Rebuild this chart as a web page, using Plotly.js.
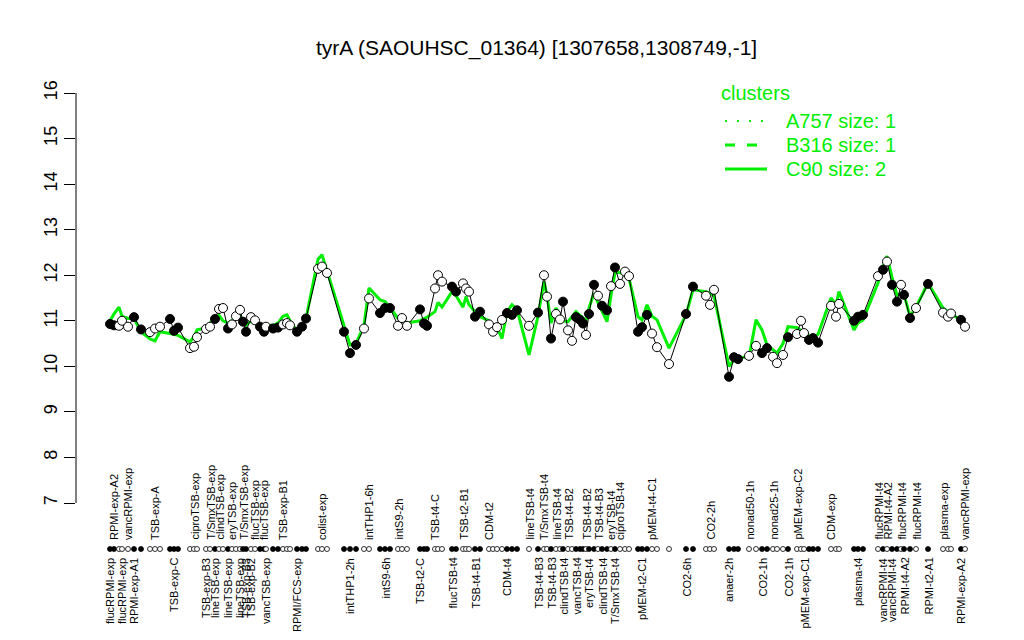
<!DOCTYPE html>
<html>
<head>
<meta charset="utf-8">
<script src="https://cdn.plot.ly/plotly-3.0.1.min.js"></script>
<style>html,body{margin:0;padding:0;background:#fff;}#chart{width:1024px;height:640px;}</style>
</head>
<body>
<div id="chart"></div>
<script>
// Condition positions along the x axis (condition slots, groups separated by gaps)
const positions = [
  1,5,10,13,19,25,32,41,46,51,
  61,65,69,81,85,88,97,101,106,110,
  114,119,123,127,131,134,137,142,146,151,
  155,157,164,169,174,178,181,188,193,197,
  209,213,218,235,241,247,255,260,271,276,
  281,289,293,298,311,315,318,326,329,333,
  343,347,354,357,360,366,371,380,384,388,
  393,398,403,408,420,429,435,438,442,447,
  451,454,459,463,467,471,474,477,480,485,
  489,493,498,502,506,511,516,520,529,533,
  538,543,548,560,577,584,597,601,605,620,
  625,629,640,647,653,658,664,668,674,679,
  688,692,695,700,704,709,722,727,730,745,
  749,754,769,774,778,783,788,792,795,801,
  807,819,834,839,842,852,856
];
// Expression values of tyrA per condition
const values = [
  10.93,10.90,10.89,11.00,10.87,11.08,10.81,10.75,10.83,10.87,
  11.04,10.78,10.85,10.40,10.43,10.64,10.82,10.87,11.04,11.26,
  11.28,10.83,10.92,11.10,11.24,10.98,10.76,11.08,11.01,10.87,
  10.76,10.87,10.83,10.85,10.92,10.95,10.90,10.76,10.87,11.05,
  12.14,12.19,12.05,10.76,10.29,10.47,10.83,11.49,11.17,11.28,
  11.28,10.89,11.06,10.89,11.25,10.94,10.89,11.71,12.00,11.86,
  11.75,11.64,11.82,11.71,11.64,11.09,11.20,10.92,10.76,10.86,
  11.02,11.17,11.13,11.23,10.89,11.18,12.00,11.53,10.61,11.15,
  11.03,11.42,10.79,10.56,11.08,11.02,10.94,10.69,11.15,11.79,
  11.55,11.33,11.23,11.76,12.17,11.81,12.08,11.98,10.76,10.86,
  11.13,10.72,10.42,10.05,11.15,11.75,11.55,11.35,11.68,9.77,
  10.20,10.16,10.23,10.45,10.29,10.40,10.21,10.07,10.25,10.64,
  10.71,11.00,10.73,10.58,10.62,10.52,11.33,11.09,11.37,11.00,
  11.09,11.13,11.98,12.12,12.30,11.79,11.42,11.79,11.57,11.06,
  11.28,11.81,11.18,11.09,11.16,11.02,10.87
];
// Condition group shading: 1 = filled marker, 0 = open marker
const filled = [
  1,1,0,0,0,1,1,0,0,0,
  1,1,1,0,0,0,0,0,1,0,
  0,1,0,0,0,1,1,0,0,1,
  1,0,1,1,0,0,0,1,1,1,
  0,0,0,1,1,1,0,0,1,1,
  1,0,0,0,1,1,1,0,0,0,
  1,1,0,0,0,1,1,0,0,0,
  0,1,1,1,0,1,0,0,1,0,
  0,1,0,0,1,1,1,0,1,1,
  0,1,1,0,1,0,0,0,1,1,
  1,0,0,0,1,1,0,0,0,1,
  1,1,0,0,1,1,0,0,0,1,
  0,0,0,1,1,1,0,0,0,1,
  1,1,0,1,0,1,1,0,1,1,
  0,1,0,0,0,1,0
];
// Cluster C90 mean profile
const c90 = [
  11.0,11.15,11.3,11.1,11.05,11.05,10.76,10.6,10.56,10.76,
  10.72,10.70,10.68,10.54,10.65,10.8,10.84,10.95,11.05,11.12,
  11.0,10.95,11.0,11.05,11.1,11.0,10.9,11.0,10.95,10.9,
  10.85,10.9,10.9,10.95,11.1,11.13,11.0,10.78,10.9,11.05,
  12.35,12.45,12.1,10.9,10.47,10.5,10.9,11.72,11.46,11.42,
  11.3,11.05,10.98,10.95,11.0,11.05,11.08,11.2,11.4,11.3,
  11.64,11.55,11.3,11.53,11.35,11.2,11.09,11.0,10.9,10.86,
  10.61,11.2,11.35,11.25,10.25,11.1,11.86,11.55,10.95,11.28,
  11.1,11.0,10.98,11.1,11.2,11.12,11.05,11.0,11.28,11.61,
  11.4,11.2,10.98,11.56,12.06,12.06,12.0,11.93,11.09,11.02,
  11.35,11.1,11.02,10.4,11.13,11.68,11.64,11.6,11.55,10.0,
  10.14,10.2,10.2,11.02,10.8,10.47,10.35,10.29,10.5,10.87,
  10.85,10.8,10.75,10.68,10.65,10.7,11.5,11.35,11.64,10.8,
  10.95,11.02,11.83,12.2,12.42,11.96,11.56,11.6,11.58,11.1,
  11.3,11.83,11.28,11.2,11.15,11.02,10.95
];
// Tick labels shown above the condition rug (1-based condition index)
const topIdx = [2,5,9,15,18,20,23,26,29,31,35,42,48,52,58,63,68,75,77,80,83,88,91,94,96,102,108,113,117,121,127,133,135,138,141,143,147];
const topText = ['RPMI-exp-A2','vancRPMI-exp','TSB-exp-A','ciproTSB-exp','T/SmxTSB-exp','clindTSB-exp','eryTSB-exp','T/SmxTSB-exp','flucTSB-exp','flucTSB-exp','TSB-exp-B1','colist-exp','intTHP1-6h','intS9-2h','TSB-t4-C','TSB-t2-B1','CDM-t2','lineTSB-t4','T/SmxTSB-t4','lineTSB-t4','TSB-t4-B2','TSB-t4-B2','TSB-t4-B3','eryTSB-t4','ciproTSB-t4','pMEM-t4-C1','CO2-2h','nonad50-1h','nonad25-1h','pMEM-exp-C2','CDM-exp','flucRPMI-t4','RPMI-t4-A2','flucRPMI-t4','flucRPMI-t4','plasma-exp','vancRPMI-exp'];
// Tick labels shown below the condition rug
const botIdx = [1,4,6,12,17,19,22,25,27,28,32,38,45,50,55,61,66,72,76,79,82,85,89,92,95,100,105,110,115,120,123,131,134,136,139,142,146];
const botText = ['flucRPMI-exp','flucRPMI-exp','RPMI-exp-A1','TSB-exp-C','TSB-exp-B3','lineTSB-exp','lineTSB-exp','lineTSB-exp','TSB-exp-B3','TSB-exp-B2','vancTSB-exp','RPMI/FCS-exp','intTHP1-2h','intS9-6h','TSB-t2-C','flucTSB-t4','TSB-t4-B1','CDM-t4','TSB-t4-B3','TSB-t4-B3','clindTSB-t4','vancTSB-t4','eryTSB-t4','clindTSB-t4','T/SmxTSB-t4','pMEM-t2-C1','CO2-6h','anaer-2h','CO2-1h','CO2-1h','pMEM-exp-C1','plasma-t4','vancRPMI-t4','vancRPMI-t4','RPMI-t4-A2','RPMI-t2-A1','RPMI-exp-A2'];
const yTicks = [7,8,9,10,11,12,13,14,15,16];
const legendTitle = 'clusters';
const clusterNames = ['A757 size: 1','B316 size: 1','C90 size: 2'];

if (positions.length !== values.length || values.length !== filled.length || c90.length !== values.length) {
  throw new Error('length mismatch ' + positions.length + ' ' + values.length + ' ' + filled.length + ' ' + c90.length);
}

const GREEN = '#00ee00';
const FONT = 'Liberation Sans, Arial, Helvetica, sans-serif';
const yMin = 7, yMax = 16;
const pxPerUnit = 410 / (yMax - yMin);     // 16 sits at 93px, 7 at 503px
const plotTop = 93, plotBottom = 600;
const yLow = yMin - (plotBottom - 503) / pxPerUnit;
const yAt = off => yMin - off / pxPerUnit;  // value located `off` px below the 7 tick
const rugY = yAt(46);
const markerFill = filled.map(f => f ? 'black' : 'white');
const dashes = ['2px,10px', '10px,12px', 'solid'];
const widths = [2, 3, 3];

const traces = [
  {x: positions, y: c90, mode: 'lines', name: clusterNames[2], line: {color: GREEN, width: 3}, hoverinfo: 'skip', showlegend: false},
  {x: positions, y: values, mode: 'lines', showlegend: false, line: {color: 'black', width: 1}},
  {x: positions, y: values, mode: 'markers', showlegend: false,
   marker: {symbol: 'circle', size: 9, color: markerFill, line: {color: 'black', width: 1}}},
  {x: positions, y: positions.map(() => rugY), mode: 'markers', showlegend: false,
   marker: {symbol: 'circle', size: 5, color: markerFill, line: {color: 'black', width: 0.8}}}
];

const annotations = [];
topIdx.forEach((idx, k) => {
  annotations.push({x: positions[idx - 1], xref: 'x', y: yAt(39), yref: 'y', text: topText[k],
    showarrow: false, textangle: -90, xanchor: 'center', yanchor: 'bottom',
    font: {family: FONT, size: 11, color: 'black'}});
});
botIdx.forEach((idx, k) => {
  annotations.push({x: positions[idx - 1], xref: 'x', y: yAt(53), yref: 'y', text: botText[k],
    showarrow: false, textangle: -90, xanchor: 'center', yanchor: 'top',
    font: {family: FONT, size: 11, color: 'black'}});
});

// legend (drawn in pixel-based paper coordinates)
const W = 923, H = plotBottom - plotTop;
const px = v => (v - 76) / W;
const py = v => (plotBottom - v) / H;
annotations.push({x: px(719), y: py(93), xref: 'paper', yref: 'paper', text: legendTitle, showarrow: false,
  xanchor: 'left', yanchor: 'middle', font: {family: FONT, size: 20, color: GREEN}});
const shapes = [{type: 'line', xref: 'paper', yref: 'y', x0: 0, x1: 0, y0: yMin, y1: yMax,
  line: {color: 'black', width: 1}}];
clusterNames.forEach((name, k) => {
  const yy = 121 + k * 24;
  annotations.push({x: px(784), y: py(yy), xref: 'paper', yref: 'paper', text: name, showarrow: false,
    xanchor: 'left', yanchor: 'middle', font: {family: FONT, size: 20, color: GREEN}});
  shapes.push({type: 'line', xref: 'paper', yref: 'paper', x0: px(725), x1: px(767), y0: py(yy), y1: py(yy),
    line: {color: GREEN, width: widths[k], dash: dashes[k]}});
});

const layout = {
  width: 1024, height: 640,
  margin: {l: 76, r: 25, t: plotTop, b: 640 - plotBottom, pad: 0},
  paper_bgcolor: 'white', plot_bgcolor: 'white',
  font: {family: FONT, color: 'black'},
  title: {text: 'tyrA (SAOUHSC_01364) [1307658,1308749,-1]', x: 0.499, xref: 'paper', xanchor: 'center',
    y: 1 - 48 / 640, yref: 'container', yanchor: 'middle', font: {family: FONT, size: 21, color: 'black'}},
  xaxis: {range: [-33, 890], visible: false, showgrid: false, zeroline: false, fixedrange: true},
  yaxis: {range: [yLow, yMax], tickvals: yTicks, ticktext: yTicks.map(String), ticks: 'outside', ticklen: 11,
    tickwidth: 1, tickcolor: 'black', showline: false, showgrid: false,
    zeroline: false, tickangle: -90, tickfont: {family: FONT, size: 18, color: 'black'}},
  showlegend: false,
  annotations: annotations,
  shapes: shapes
};

Plotly.newPlot('chart', traces, layout, {displayModeBar: false, staticPlot: true});
</script>
</body>
</html>
